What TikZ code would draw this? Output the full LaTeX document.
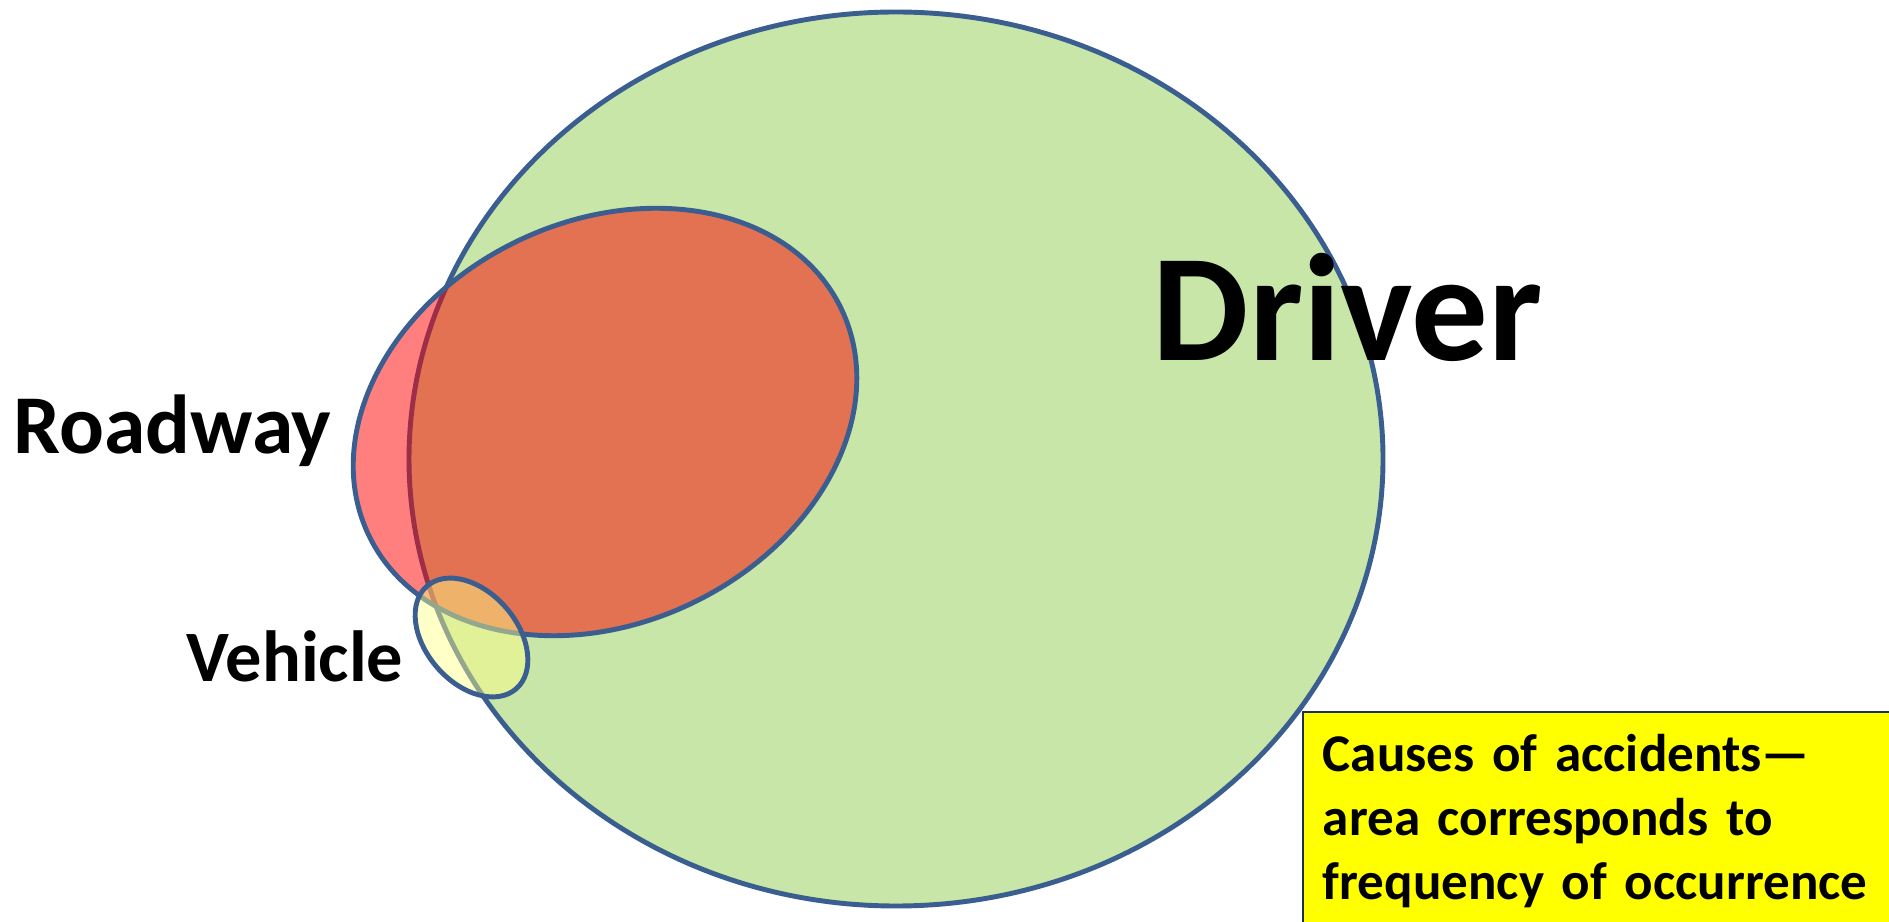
\documentclass[tikz,border=0pt]{standalone}
\usepackage{fontspec}
\setmainfont{Carlito}
\usepackage{tikz}
\usetikzlibrary{
    positioning,
    calc
}
\tikzset{
  venn/.style    = {draw=VennEdge, line width=1.4pt},
  tag/.style     = {inner sep=0pt, anchor=base west, text=black},
  notebox/.style = {draw=NoteEdge, line width=0.5pt, fill=NoteYellow,
                    anchor=north west, align=left, text width=6cm,
                    inner xsep=0.2cm, inner ysep=0.22cm}
}
\definecolor{DriverGreen}{RGB}{200,230,167}
\definecolor{VennEdge}{RGB}{59,94,145}
\definecolor{VehicleYellow}{RGB}{255,255,135}
\definecolor{NoteYellow}{RGB}{255,255,0}
\definecolor{NoteEdge}{RGB}{31,45,90}

\begin{document}
\begin{tikzpicture}[every node/.style={font=\bfseries}]
\useasboundingbox (0,0) rectangle (18.89,9.21);
\clip (0,0) rectangle (18.89,9.21);
% driver, roadway, vehicle
\draw[venn, fill=DriverGreen] (8.96,4.62) ellipse [x radius=4.87cm, y radius=4.47cm];
\draw[venn, fill=red, fill opacity=0.5, shift={(6.05,4.99)}, rotate=25.6] (0,0) ellipse [x radius=2.62cm, y radius=2.01cm];
\draw[venn, fill=VehicleYellow, fill opacity=0.46, shift={(4.715,2.835)}, rotate=-49] (0,0) ellipse [x radius=0.68cm, y radius=0.456cm];
\node[tag, font=\fontsize{43.5}{50}\selectfont\bfseries] (driver) at (11.52,5.60) {Driver};
\node[tag, font=\fontsize{23.8}{28}\selectfont\bfseries] (roadway) at (0.13,4.67) {Roadway};
\node[tag, font=\fontsize{20.6}{24}\selectfont\bfseries] (vehicle) at (1.86,2.39) {Vehicle};
% note
\node[notebox, font=\fontsize{15.1}{18.2}\selectfont\bfseries] (note) at (13.02,2.10)
  {Causes of accidents---\\area corresponds to\\frequency of occurrence};
\end{tikzpicture}
\end{document}
